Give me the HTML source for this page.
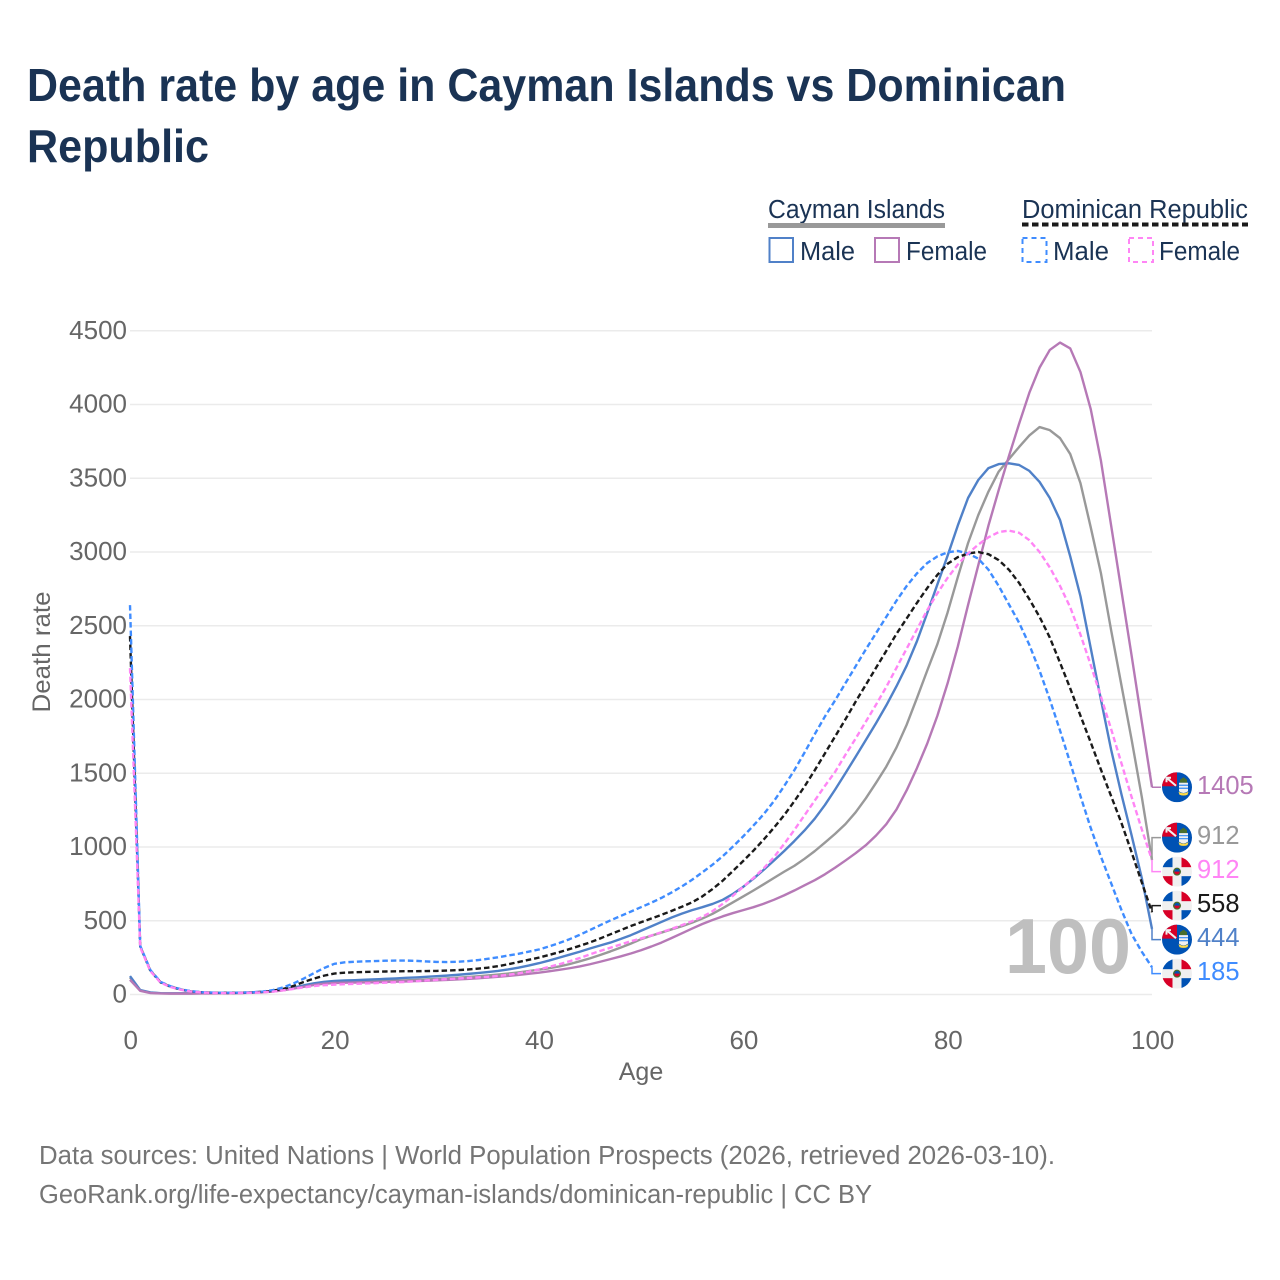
<!DOCTYPE html>
<html lang="en">
<head>
<meta charset="utf-8">
<title>Death rate by age in Cayman Islands vs Dominican Republic</title>
<style>
html,body{margin:0;padding:0;background:#fff;}
svg{display:block;font-family:"Liberation Sans",sans-serif;}
</style>
</head>
<body>
<svg id="chart" xmlns="http://www.w3.org/2000/svg" width="1280" height="1280" viewBox="0 0 1280 1280">
  <defs>
    <clipPath id="flag-clip"><circle cx="0" cy="0" r="15"/></clipPath>
    <symbol id="flag-ky" overflow="visible" viewBox="-15 -15 30 30" width="30" height="30">
      <g clip-path="url(#flag-clip)">
        <rect x="-15" y="-15" width="30" height="30" fill="#0052b4"/>
        <path d="M-15,-15H0V-1H-15Z" fill="#d80027"/>
        <path d="M-10.5,-9.5L-1,-1.5M-10.5,-5V-9.5H-6" stroke="#f0f0f0" stroke-width="2" fill="none"/>
        <path d="M3,-7.5L6.5,-10L10,-7.5V-4.5H3Z" fill="#496e2d"/>
        <path d="M2,-4.5H11V4Q6.5,7.5,2,4Z" fill="#f0f0f0"/>
        <path d="M2,-2H11M2,1H11" stroke="#338af3" stroke-width="1.2"/>
        <path d="M1.5,4.5Q6.5,7.5,11.5,4.5L10.5,7.5Q6.5,9,2.5,7.5Z" fill="#ffda44"/>
      </g>
    </symbol>
    <symbol id="flag-do" overflow="visible" viewBox="-15 -15 30 30" width="30" height="30">
      <g clip-path="url(#flag-clip)">
        <rect x="-15" y="-15" width="30" height="30" fill="#f0f0f0"/>
        <rect x="-15" y="-15" width="10.5" height="10.5" fill="#0052b4"/>
        <rect x="4.5" y="4.5" width="10.5" height="10.5" fill="#0052b4"/>
        <rect x="4.5" y="-15" width="10.5" height="10.5" fill="#d80027"/>
        <rect x="-15" y="4.5" width="10.5" height="10.5" fill="#d80027"/>
        <circle r="4" fill="#496e2d"/>
        <path d="M-2.8,0A2.8,2.8 0 0 1 2.8,0Z" fill="#0052b4"/>
        <path d="M-2.8,0A2.8,2.8 0 0 0 2.8,0Z" fill="#d80027"/>
      </g>
    </symbol>
  </defs>

  <g fill="#1a3354" font-weight="700" font-size="46">
    <text x="27" y="101" textLength="1039" lengthAdjust="spacingAndGlyphs">Death rate by age in Cayman Islands vs Dominican</text>
    <text x="27" y="162" textLength="182" lengthAdjust="spacingAndGlyphs">Republic</text>
  </g>

  <g fill="#1a3354" font-size="25.5">
    <text x="768" y="218" textLength="177" lengthAdjust="spacingAndGlyphs">Cayman Islands</text>
    <rect x="768" y="223" width="177" height="5" fill="#999999"/>
    <text x="1022" y="218" textLength="226" lengthAdjust="spacingAndGlyphs">Dominican Republic</text>
    <line x1="1022" y1="224.5" x2="1248" y2="224.5" stroke="#1a1a1a" stroke-width="4" stroke-dasharray="6.5 3.5"/>
    <rect x="769.5" y="238" width="23.5" height="24" fill="none" stroke="#5081c8" stroke-width="2"/>
    <text x="800" y="260" textLength="55" lengthAdjust="spacingAndGlyphs">Male</text>
    <rect x="875" y="238" width="24" height="24" fill="none" stroke="#b679b6" stroke-width="2"/>
    <text x="906" y="260" textLength="81" lengthAdjust="spacingAndGlyphs">Female</text>
    <rect x="1022.5" y="238" width="24" height="24" fill="none" stroke="#3f8cff" stroke-width="2" stroke-dasharray="5 4"/>
    <text x="1053" y="260" textLength="56" lengthAdjust="spacingAndGlyphs">Male</text>
    <rect x="1129" y="238" width="24" height="24" fill="none" stroke="#ff85f5" stroke-width="2" stroke-dasharray="5 4"/>
    <text x="1159" y="260" textLength="81" lengthAdjust="spacingAndGlyphs">Female</text>
  </g>

  <g id="grid"></g>
  <g id="y-ticks" fill="#666666" font-size="26" text-anchor="end"></g>
  <g id="x-ticks" fill="#666666" font-size="26" text-anchor="middle"></g>

  <text transform="translate(50,652) rotate(-90)" fill="#666666" font-size="25" text-anchor="middle" textLength="121" lengthAdjust="spacingAndGlyphs">Death rate</text>
  <text x="641" y="1080" fill="#666666" font-size="25" text-anchor="middle">Age</text>

  <text id="age-watermark" x="1131" y="973" fill="#bfbfbf" font-size="78" font-weight="700" text-anchor="end" textLength="126" lengthAdjust="spacingAndGlyphs"></text>

  <g id="lines" fill="none" stroke-linejoin="round"></g>
  <g id="end-labels"></g>

  <g fill="#757575" font-size="25.5">
    <text x="39" y="1164" textLength="1016" lengthAdjust="spacingAndGlyphs">Data sources: United Nations | World Population Prospects (2026, retrieved 2026-03-10).</text>
    <text x="39" y="1203" textLength="833" lengthAdjust="spacingAndGlyphs">GeoRank.org/life-expectancy/cayman-islands/dominican-republic | CC BY</text>
  </g>
</svg>

<script>
const ages = [0,1,2,3,4,5,6,7,8,9,10,11,12,13,14,15,16,17,18,19,20,21,22,23,24,25,26,27,28,29,30,31,32,33,34,35,36,37,38,39,40,41,42,43,44,45,46,47,48,49,50,51,52,53,54,55,56,57,58,59,60,61,62,63,64,65,66,67,68,69,70,71,72,73,74,75,76,77,78,79,80,81,82,83,84,85,86,87,88,89,90,91,92,93,94,95,96,97,98,99,100];
const xTickLabels = [0,20,40,60,80,100];
const yTickLabels = [0,500,1000,1500,2000,2500,3000,3500,4000,4500];

const caymanTotal = [115,28,12,8,7,7,7,8,8,9,10,11,14,18,24,33,46,60,72,80,84,86,87,88,90,92,94,96,99,102,105,109,113,118,123,129,135,142,150,159,168,178,190,206,225,245,268,292,318,345,375,398,420,442,463,487,515,547,585,625,665,705,747,790,832,872,920,972,1030,1090,1155,1235,1330,1435,1545,1675,1830,2010,2195,2375,2590,2830,3060,3250,3410,3545,3630,3712,3790,3847,3826,3772,3664,3467,3169,2857,2470,2100,1730,1340,912];
const caymanMale = [125,30,14,9,8,8,8,8,9,10,11,12,15,19,25,34,46,62,76,86,92,95,97,100,103,106,109,113,116,120,124,128,133,139,145,152,160,170,182,196,212,230,250,270,290,312,332,352,376,402,432,462,492,522,548,572,592,614,642,682,730,785,845,908,972,1040,1112,1192,1285,1390,1500,1612,1725,1840,1960,2090,2230,2395,2585,2780,2975,3180,3366,3488,3569,3596,3601,3590,3550,3475,3366,3217,2970,2700,2350,2000,1660,1360,1080,790,444];
const caymanFemale = [100,25,10,7,6,6,6,7,7,8,9,10,12,15,20,28,40,52,65,73,78,80,81,82,83,85,87,89,91,93,96,99,102,106,110,115,120,126,133,140,148,157,167,178,190,205,222,240,258,278,300,325,352,383,415,447,478,505,530,552,572,592,615,642,672,705,740,775,815,860,908,958,1012,1078,1155,1255,1385,1535,1700,1890,2110,2360,2640,2910,3180,3420,3650,3870,4080,4250,4370,4420,4380,4220,3970,3620,3180,2740,2300,1850,1405];
const dominicanTotal = [2430,325,160,82,52,33,21,15,12,11,11,12,14,18,26,38,58,85,108,128,142,148,151,153,155,156,157,158,158,159,160,162,165,169,175,182,192,205,220,235,250,268,287,308,330,353,380,408,436,464,490,515,540,567,595,625,665,715,772,838,905,975,1050,1130,1215,1310,1410,1520,1635,1750,1865,1985,2100,2215,2330,2445,2550,2655,2755,2845,2920,2965,2990,3000,2985,2945,2880,2790,2680,2560,2420,2250,2075,1890,1710,1525,1345,1165,965,760,558];
const dominicanMale = [2640,330,165,85,55,35,22,16,13,12,12,13,15,20,30,48,75,108,145,180,208,218,222,225,227,229,230,230,228,224,221,220,222,226,233,242,252,264,276,290,305,326,349,375,404,437,470,502,532,562,592,622,655,692,733,778,828,880,938,1003,1072,1145,1222,1310,1412,1520,1640,1765,1885,1995,2110,2225,2340,2450,2560,2670,2770,2855,2925,2970,2998,3007,2990,2955,2880,2770,2645,2520,2370,2195,2000,1790,1570,1345,1130,935,755,575,410,290,185];
const dominicanFemale = [2213,320,158,80,50,32,20,14,11,10,10,11,12,15,20,28,38,48,57,63,67,70,72,75,77,80,83,85,90,95,100,104,108,112,116,120,126,133,143,155,170,187,205,225,247,272,295,317,339,361,380,400,422,445,470,497,526,565,615,670,730,790,855,930,1020,1115,1215,1315,1415,1510,1625,1735,1850,1965,2085,2215,2345,2475,2605,2720,2825,2915,2990,3050,3100,3135,3145,3130,3080,3000,2895,2770,2625,2440,2235,2020,1800,1570,1340,1120,912];

const NS = 'http://www.w3.org/2000/svg';
const plot = { left: 130, right: 1152, zero: 994.5, top: 330.75, maxAge: 100, maxRate: 4500 };

function xScale(age) {
  return plot.left + (age / plot.maxAge) * (plot.right - plot.left);
}
function yScale(rate) {
  return plot.zero - (rate / plot.maxRate) * (plot.zero - plot.top);
}
function make(tag, attrs, parent) {
  const node = document.createElementNS(NS, tag);
  for (const key in attrs) node.setAttribute(key, attrs[key]);
  parent.appendChild(node);
  return node;
}

const gridGroup = document.getElementById('grid');
const yTickGroup = document.getElementById('y-ticks');
const xTickGroup = document.getElementById('x-ticks');
const lineGroup = document.getElementById('lines');
const labelGroup = document.getElementById('end-labels');

yTickLabels.forEach(function (tick) {
  const y = yScale(tick);
  const grid = make('line', { x1: plot.left, x2: plot.right, y1: y, y2: y, stroke: '#ebebeb', 'stroke-width': 1.5 }, gridGroup);
  
  
  const label = make('text', { x: 127, y: y + 8 }, yTickGroup);
  
  
  label.textContent = tick;
});

xTickLabels.forEach(function (tick) {
  const label = make('text', { x: xScale(tick) + 0.7, y: 1049 }, xTickGroup);
  
  
  label.textContent = tick;
});

document.getElementById('age-watermark').textContent = ages[ages.length - 1];

const seriesList = [
  { key: 'cayman-total', values: caymanTotal, color: '#999999', dash: null, flag: 'flag-ky' },
  { key: 'cayman-male', values: caymanMale, color: '#5081c8', dash: null, flag: 'flag-ky' },
  { key: 'cayman-female', values: caymanFemale, color: '#b679b6', dash: null, flag: 'flag-ky' },
  { key: 'dominican-total', values: dominicanTotal, color: '#1a1a1a', dash: '5.5 3', flag: 'flag-do' },
  { key: 'dominican-male', values: dominicanMale, color: '#3f8cff', dash: '5.5 3', flag: 'flag-do' },
  { key: 'dominican-female', values: dominicanFemale, color: '#ff85f5', dash: '5.5 3', flag: 'flag-do' }
];

seriesList.forEach(function (series) {
  const points = series.values.map(function (value, i) {
    return xScale(ages[i]).toFixed(2) + ',' + yScale(value).toFixed(2);
  }).join(' ');
  const attrs = { points: points, stroke: series.color, 'stroke-width': 2.4 };
  if (series.dash) attrs['stroke-dasharray'] = series.dash;
  const line = make('polyline', attrs, lineGroup);
  
  
});

/* Spread the end labels so they never overlap: merge touching clusters around their mean. */
function dodge(items, gap) {
  const sorted = items.slice().sort(function (a, b) { return a.y - b.y; });
  let clusters = sorted.map(function (item) { return { items: [item], mean: item.y }; });
  let merged = true;
  while (merged) {
    merged = false;
    for (let i = 0; i < clusters.length - 1; i++) {
      const a = clusters[i];
      const b = clusters[i + 1];
      const aEnd = a.mean + (a.items.length - 1) * gap / 2;
      const bStart = b.mean - (b.items.length - 1) * gap / 2;
      if (bStart - aEnd < gap) {
        const all = a.items.concat(b.items);
        const total = all.reduce(function (sum, item) { return sum + item.y; }, 0);
        clusters.splice(i, 2, { items: all, mean: total / all.length });
        merged = true;
        break;
      }
    }
  }
  clusters.forEach(function (cluster) {
    cluster.items.forEach(function (item, i) {
      item.labelY = cluster.mean + (i - (cluster.items.length - 1) / 2) * gap;
    });
  });
  return sorted;
}

const endItems = seriesList.map(function (series) {
  const last = series.values[series.values.length - 1];
  return { series: series, value: last, y: yScale(last) };
});

dodge(endItems, 34).forEach(function (item) {
  const xEnd = xScale(ages[ages.length - 1]);
  const rowY = item.labelY;
  const connector = make('path', {
    d: 'M' + xEnd + ',' + item.y + 'V' + rowY + 'H' + (xEnd + 9),
    fill: 'none',
    stroke: item.series.color,
    'stroke-width': 1.5
  }, labelGroup);
  
  

  const flag = make('use', { href: '#' + item.series.flag, x: 1162, y: rowY - 15, width: 30, height: 30 }, labelGroup);
  
  

  const label = make('text', { x: 1197, y: rowY + 6.5, fill: item.series.color, 'font-size': 25.5 }, labelGroup);
  
  
  label.textContent = item.value;
});
</script>
</body>
</html>
